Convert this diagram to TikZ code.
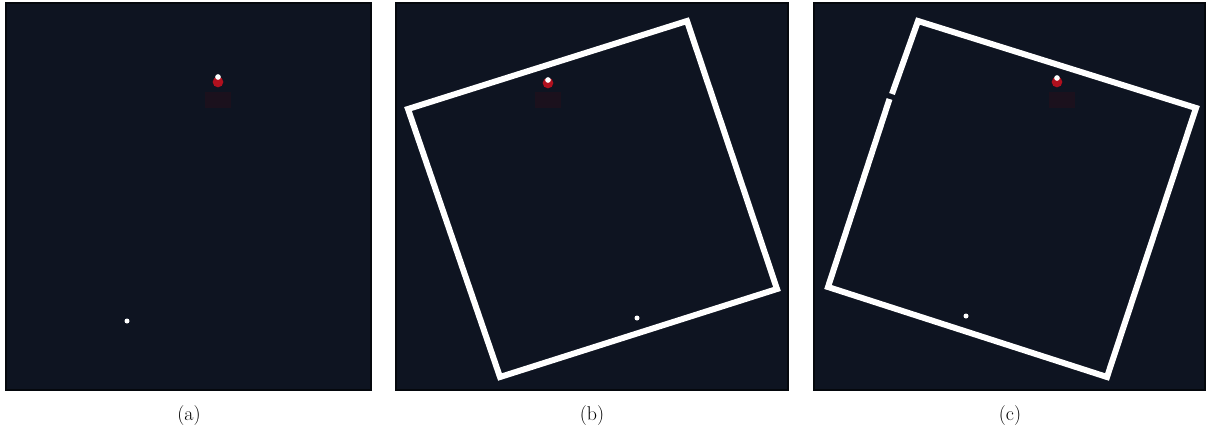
\documentclass[tikz,border=0pt]{standalone}
\usepackage{tikz}
\usetikzlibrary{positioning}
\definecolor{night}{HTML}{0E1421}
\definecolor{edge}{HTML}{05080D}
\definecolor{glow}{HTML}{B0101E}
\definecolor{haze}{HTML}{3A0C16}
\tikzset{
  panel/.style={
    draw=edge,
    line width=0.6mm,
    fill=night,
    minimum height=116.1mm,
    inner sep=0pt
  },
  frame/.style={draw=white, line width=1.8mm, line join=miter},
  marker/.style={circle, fill=white, minimum size=1.7mm, inner sep=0pt},
  target/.style={circle, fill=glow, minimum size=3.2mm, inner sep=0pt},
  halo/.style={rectangle, fill=haze, opacity=0.3, minimum width=8mm, minimum height=5mm, inner sep=0pt},
  caption/.style={font=\fontsize{17}{20}\selectfont, inner sep=0pt}
}

\begin{document}
\begin{tikzpicture}[x=0.3mm, y=-0.3mm]
  \useasboundingbox (0,0) rectangle (1208,430);
  \fill[white] (0,0) rectangle (1208,430);

  % three captured frames
  \node[panel, minimum width=109.5mm] (pa) at (188.5,196.5) {};
  \node[panel, minimum width=117.6mm] (pb) at (592,196.5) {};
  \node[panel, minimum width=117.3mm] (pc) at (1009.5,196.5) {};

  % (a) no frame
  \node[halo] (ha) at (218,100) {};
  \node[target] (ta) at (218,82) {};
  \node[marker] (sa) at (218,77) {};
  \node[marker, minimum size=1.5mm] (ma) at (127,321) {};

  % (b) frame turned one way
  \draw[frame] (687,21) -- (777,289) -- (500,377) -- (408,109) -- cycle;
  \node[halo] (hb) at (548,100) {};
  \node[target] (tb) at (548,83) {};
  \node[marker] (sb) at (548,80) {};
  \node[marker, minimum size=1.5mm] (mb) at (637,318) {};

  % (c) frame turned the other way
  \draw[frame] (892,94) -- (918,21) -- (1196,108) -- (1107,377) -- (828,287) -- (889.5,99);
  \node[halo] (hc) at (1062,100) {};
  \node[target] (tc) at (1057,82) {};
  \node[marker] (sc) at (1057,78) {};
  \node[marker, minimum size=1.5mm] (mc) at (966,316) {};

  \node[caption] (capa) at (189,416) {(a)};
  \node[caption] (capb) at (592,416) {(b)};
  \node[caption] (capc) at (1010,416) {(c)};
\end{tikzpicture}
\end{document}
